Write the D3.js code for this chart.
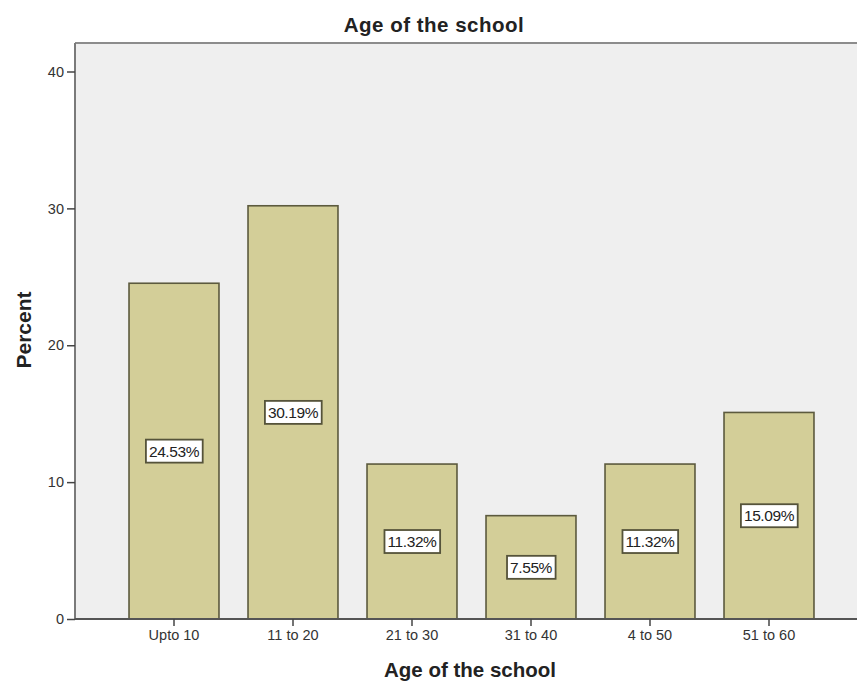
<!DOCTYPE html>
<html><head><meta charset="utf-8">
<script src="https://cdn.jsdelivr.net/npm/d3@7"></script>
<style>body{margin:0;background:#fff}svg{display:block}</style>
</head><body>
<svg id="c" width="857" height="682"></svg>
<script>
const categories = ["Upto 10","11 to 20","21 to 30","31 to 40","4 to 50","51 to 60"];
const percents = [24.53, 30.19, 11.32, 7.55, 11.32, 15.09];
const yTicks = [0, 10, 20, 30, 40];
const chartTitle = "Age of the school";
const xTitle = "Age of the school";
const yTitle = "Percent";

const svg = d3.select("#c");
const pLeft = 75, pTop = 43, pBottom = 619, pRight = 860;
const font = "Liberation Sans, Arial, sans-serif";
const y = d3.scaleLinear().domain([0, 40]).range([pBottom, 71.5]);
const x = d3.scaleBand().domain(categories).range([114.5, 828.5]).paddingInner(0.244).paddingOuter(0.122);

svg.append("rect").attr("x", pLeft).attr("y", pTop).attr("width", pRight-pLeft).attr("height", pBottom-pTop)
  .attr("fill", "#efefef");
svg.append("line").attr("x1", pLeft).attr("x2", pRight).attr("y1", pTop).attr("y2", pTop)
  .attr("stroke", "#8c8c8c").attr("stroke-width", 2);

svg.append("g").selectAll("rect").data(percents).join("rect")
  .attr("x", (d,i) => x(categories[i]))
  .attr("y", d => y(d))
  .attr("width", x.bandwidth())
  .attr("height", d => y(0) - y(d))
  .attr("fill", "#d3ce98")
  .attr("stroke", "#5c5a3e").attr("stroke-width", 1.6);

// y axis
const ya = svg.append("g").attr("transform", `translate(${pLeft},0)`)
  .call(d3.axisLeft(y).tickValues(yTicks).tickSize(8).tickPadding(3));
ya.select(".domain").attr("d", `M0,${pTop}V${pBottom}`).attr("stroke", "#7a7a7a").attr("stroke-width", 2);
ya.selectAll(".tick line").attr("stroke", "#444").attr("stroke-width", 1.5);
ya.selectAll(".tick text").attr("font-family", font).attr("font-size", 14.5).attr("fill", "#333");

// x axis
const xa = svg.append("g").attr("transform", `translate(0,${pBottom})`)
  .call(d3.axisBottom(x).tickSize(7).tickPadding(4));
xa.select(".domain").attr("d", `M${pLeft},0H${pRight}`).attr("stroke", "#555").attr("stroke-width", 2);
xa.selectAll(".tick line").attr("stroke", "#444").attr("stroke-width", 1.5);
xa.selectAll(".tick text").attr("font-family", font).attr("font-size", 14.5).attr("fill", "#333");

// value labels
const lab = svg.append("g").selectAll("g").data(percents).join("g")
  .attr("transform", (d,i) => `translate(${x(categories[i]) + x.bandwidth()/2},${y(d/2)})`);
lab.append("text").attr("text-anchor", "middle").attr("dy", "0.36em")
  .attr("font-family", font).attr("font-size", 15.5).attr("fill", "#222")
  .attr("letter-spacing", -0.4)
  .text(d => d.toFixed(2) + "%");
lab.each(function() {
  const g = d3.select(this);
  const bb = g.select("text").node().getBBox();
  g.insert("rect", "text").attr("x", bb.x - 3).attr("y", -11.5).attr("width", bb.width + 6).attr("height", 23)
    .attr("fill", "#fff").attr("stroke", "#55533a").attr("stroke-width", 1.8);
});

// titles
svg.append("text").attr("x", 434).attr("y", 32).attr("text-anchor", "middle")
  .attr("font-family", font).attr("font-weight", "bold").attr("font-size", 20.5).attr("letter-spacing", 0.5).attr("fill", "#222")
  .text(chartTitle);
svg.append("text").attr("x", 470).attr("y", 677).attr("text-anchor", "middle")
  .attr("font-family", font).attr("font-weight", "bold").attr("font-size", 20.5).attr("fill", "#222")
  .text(xTitle);
svg.append("text").attr("transform", "translate(31,330) rotate(-90)").attr("text-anchor", "middle")
  .attr("font-family", font).attr("font-weight", "bold").attr("font-size", 21).attr("fill", "#222")
  .text(yTitle);
</script>
</body></html>
